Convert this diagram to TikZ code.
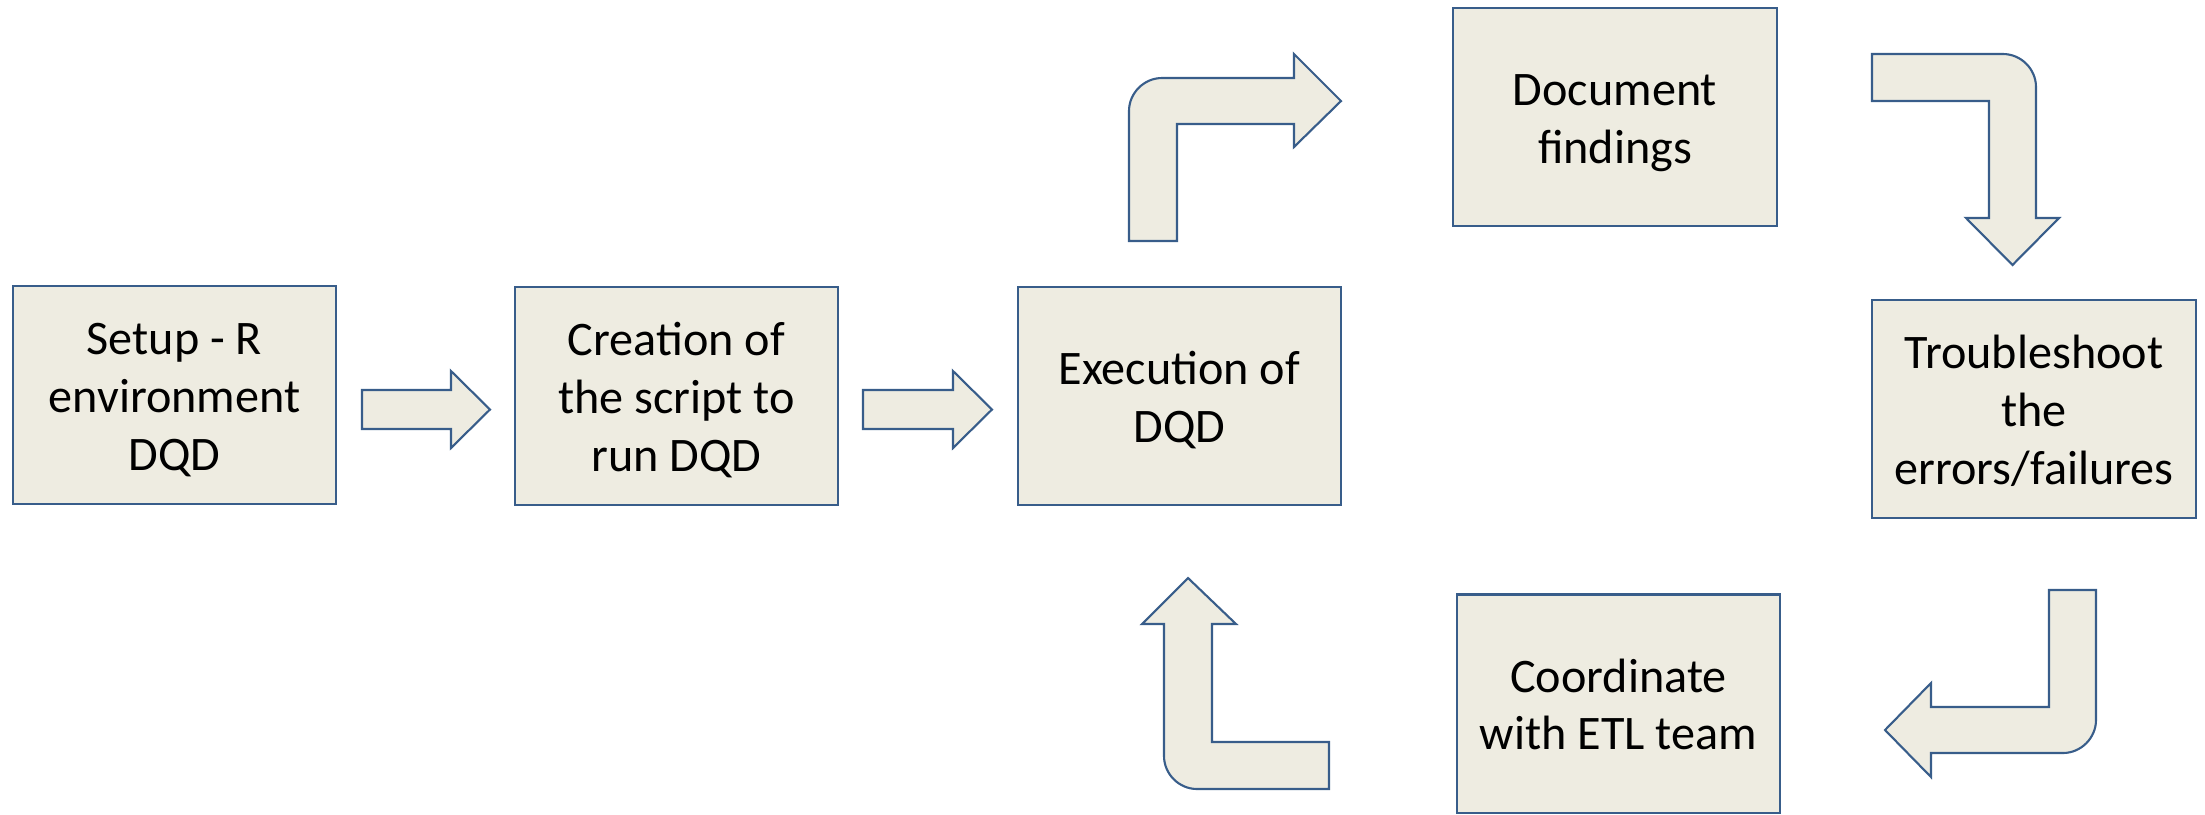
\documentclass[tikz,border=0pt]{standalone}
\usepackage{fontspec}
\setmainfont{Carlito}
\definecolor{boxfill}{HTML}{EEECE1}
\definecolor{boxline}{HTML}{385D8A}
% struts that give every label the same first-line height and last-line depth
\newcommand\firststrut{\rule{0pt}{13.5pt}}
\newcommand\laststrut{\rule[-3.5pt]{0pt}{3.5pt}}
\begin{document}
\begin{tikzpicture}[x=0.01cm, y=-0.01cm,
  stepbox/.style={draw=boxline, fill=boxfill, line width=0.6pt,
    minimum width=3.23cm, minimum height=2.18cm, inner sep=0pt,
    align=center, font=\fontsize{13.7}{16.4}\selectfont},
  blockarrow/.style={draw=boxline, fill=boxfill, line width=0.6pt, line join=miter}]
\useasboundingbox (0,0) rectangle (2205,814);

% process steps
\node[stepbox] (setup) at (174.5,395) {\firststrut Setup - R\\environment\\DQD\laststrut};
\node[stepbox] (script) at (676.5,396) {\firststrut Creation of\\the script to\\run DQD\laststrut};
\node[stepbox] (exec) at (1179.5,396) {\firststrut Execution of\\DQD\laststrut};
\node[stepbox] (doc) at (1615,117) {\firststrut Document\\findings\laststrut};
\node[stepbox] (trouble) at (2034,409) {\firststrut Troubleshoot\\the\\errors/failures\laststrut};
\node[stepbox] (coord) at (1618.5,703.5) {\firststrut Coordinate\\with ETL team\laststrut};

% straight block arrows
\draw[blockarrow] (362,390) -- (451,390) -- (451,371) -- (490,409.5) -- (451,448) -- (451,429) -- (362,429) -- cycle;
\draw[blockarrow] (863,390) -- (953,390) -- (953,371) -- (992,409.5) -- (953,448) -- (953,429) -- (863,429) -- cycle;

% bent arrow: up, then right
\draw[blockarrow] (1129,241) -- (1129,111) .. controls (1129,93) and (1144,78) .. (1162,78)
  -- (1294,78) -- (1294,54) -- (1341,101) -- (1294,147) -- (1294,124) -- (1177,124) -- (1177,241) -- cycle;

% bent arrow: right, then down
\draw[blockarrow] (1872,54) -- (2003,54) .. controls (2021,54) and (2036,69) .. (2036,87)
  -- (2036,218) -- (2059,218) -- (2012.5,265) -- (1966,218) -- (1989,218) -- (1989,101) -- (1872,101) -- cycle;

% bent arrow: down, then left
\draw[blockarrow] (2049,590) -- (2096,590) -- (2096,720) .. controls (2096,738) and (2081,753) .. (2063,753)
  -- (1931,753) -- (1931,777) -- (1885,730) -- (1931,683) -- (1931,707) -- (2049,707) -- cycle;

% bent arrow: left, then up
\draw[blockarrow] (1188,578) -- (1236,624) -- (1212,624) -- (1212,742) -- (1329,742) -- (1329,789)
  -- (1197,789) .. controls (1179,789) and (1164,774) .. (1164,756) -- (1164,624) -- (1142,624) -- cycle;
\end{tikzpicture}
\end{document}
